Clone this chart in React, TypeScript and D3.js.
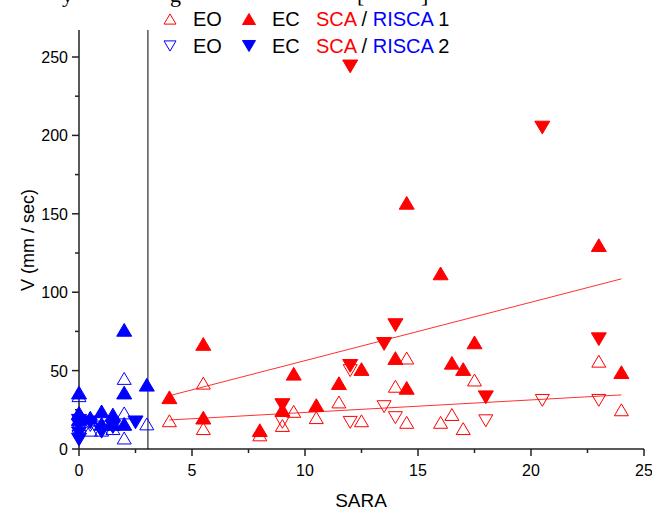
import React from "react";
import * as d3 from "d3";

type P = [number, number];

// SCA (red) and RISCA (blue) series: [SARA, V]
const scaEO1: P[] = [[4,18],[5.5,42],[5.5,13],[8,9],[9,15],[9.5,24],[10.5,20],[11.5,30],[12.5,18],[14,40],[14.5,58],[14.5,17],[16,17],[16.5,22],[17,13],[17.5,44],[23,56],[24,25]];
const scaEC1: P[] = [[4,33],[5.5,67],[5.5,20],[8,12],[9,25],[9.5,48],[10.5,28],[11.5,42],[12.5,51],[14,58],[14.5,157],[14.5,39],[16,112],[16.5,55],[17,51],[17.5,68],[23,130],[24,49]];
const scaEO2: P[] = [[9,17],[12,50],[12,17],[13.5,27],[14,20],[18,18],[20.5,31],[23,31]];
const scaEC2: P[] = [[9,28],[12,244],[12,53],[13.5,67],[14,79],[18,33],[20.5,205],[23,70]];
const riscaEO1: P[] = [[0,34],[0.5,12],[1,12],[1.5,13],[1.5,17],[2,45],[2,23],[2,7],[3,16]];
const riscaEC1: P[] = [[0,36],[0,23],[0,19],[0.5,20],[1,24],[1,16],[1.5,22],[1.5,16],[2,76],[2,36],[2,16],[3,41]];
const riscaEO2: P[] = [[0,12],[0,16],[0.5,15],[1,14],[1.5,15],[0,8]];
const riscaEC2: P[] = [[0,15],[0,10],[0,6],[0.5,17],[1,11],[1.5,14],[2.5,17],[0,18]];

// regression lines for SCA: [x0, y0, x1, y1]
const fitLines: [number, number, number, number][] = [[4, 34, 24, 108.5], [4, 18.5, 24, 34.5]];
const divider = 3.05;

const xTicks = [0, 5, 10, 15, 20, 25];
const xMinor = [2.5, 7.5, 12.5, 17.5, 22.5];
const yTicks = [0, 50, 100, 150, 200, 250];
const yMinor = [25, 75, 125, 175, 225];

const RED = "#ff0000";
const BLUE = "#0000ff";
const FONT = "Liberation Sans, Arial, sans-serif";

const x = d3.scaleLinear().domain([0, 25]).range([79, 644]);
const y = d3.scaleLinear().domain([0, 250]).range([449, 57]);

function tri(cx: number, cy: number, up: boolean, s = 7) {
  const h = s * 0.85;
  if (up) return `M${cx},${cy - h}L${cx + s},${cy + h}L${cx - s},${cy + h}Z`;
  return `M${cx},${cy + h}L${cx + s},${cy - h}L${cx - s},${cy - h}Z`;
}

function Series({ data, up, filled, color }: { data: P[]; up: boolean; filled: boolean; color: string }) {
  return (
    <g>
      {data.map((d, i) => (
        <path
          key={i}
          d={tri(x(d[0]), y(d[1]), up, filled ? 7.5 : 7)}
          fill={filled ? color : "#fff"}
          fillOpacity={filled ? 1 : 0}
          stroke={color}
          strokeWidth={1}
        />
      ))}
    </g>
  );
}

export default function App() {
  const yTop = 30;
  return (
    <svg width={652} height={511} style={{ position: "absolute", left: 0, top: 0, background: "#fff" }} fontFamily={FONT}>
      {/* clipped title descenders (cut off at the top edge, as in the reference) */}
      <g fontFamily="Liberation Serif, serif" fontSize={22} fill="#000">
        <text x={62} y={2}>y</text>
        <text x={170} y={2}>g</text>
        <text x={357} y={2}>[</text>
        <text x={421} y={2}>]</text>
      </g>

      {/* axes */}
      <g stroke="#222" strokeWidth={1.5}>
        <line x1={x(0)} x2={x(0)} y1={yTop} y2={y(0)} />
        <line x1={x(0)} x2={x(25)} y1={y(0)} y2={y(0)} />
        {xTicks.map((t) => (
          <line key={t} x1={x(t)} x2={x(t)} y1={y(0)} y2={y(0) + 7} />
        ))}
        {xMinor.map((t) => (
          <line key={t} x1={x(t)} x2={x(t)} y1={y(0)} y2={y(0) + 4} />
        ))}
        {yTicks.map((t) => (
          <line key={t} x1={x(0) - 7} x2={x(0)} y1={y(t)} y2={y(t)} />
        ))}
        {yMinor.map((t) => (
          <line key={t} x1={x(0) - 4} x2={x(0)} y1={y(t)} y2={y(t)} />
        ))}
      </g>
      <line x1={x(divider)} x2={x(divider)} y1={yTop} y2={y(0)} stroke="#000" strokeWidth={1} />

      <g fontSize={16} fill="#000">
        {xTicks.map((t) => (
          <text key={t} x={x(t)} y={476} textAnchor="middle">{t}</text>
        ))}
        {yTicks.map((t) => (
          <text key={t} x={x(0) - 11} y={y(t) + 6} textAnchor="end">{t}</text>
        ))}
      </g>
      <text x={361} y={507} fontSize={19} textAnchor="middle">SARA</text>
      <text transform={`translate(34,240) rotate(-90)`} fontSize={18} textAnchor="middle">V (mm / sec)</text>

      {/* fit lines */}
      {fitLines.map((l, i) => (
        <line key={i} x1={x(l[0])} y1={y(l[1])} x2={x(l[2])} y2={y(l[3])} stroke="#ff3030" strokeWidth={1} />
      ))}

      <Series data={scaEO1} up filled={false} color={RED} />
      <Series data={scaEO2} up={false} filled={false} color={RED} />
      <Series data={scaEC1} up filled color={RED} />
      <Series data={scaEC2} up={false} filled color={RED} />
      <Series data={riscaEO1} up filled={false} color={BLUE} />
      <Series data={riscaEO2} up={false} filled={false} color={BLUE} />
      <Series data={riscaEC1} up filled color={BLUE} />
      <Series data={riscaEC2} up={false} filled color={BLUE} />

      {/* legend */}
      <g fontSize={20}>
        <path d={tri(170, 19, true, 6)} fill="none" stroke={RED} />
        <text x={193} y={26}>EO</text>
        <path d={tri(249, 19, true, 6.5)} fill={RED} stroke={RED} />
        <text x={272} y={26}>EC</text>
        <text x={316} y={26}>
          <tspan fill={RED}>SCA</tspan>
          <tspan fill="#000"> / </tspan>
          <tspan fill={BLUE}>RISCA</tspan>
          <tspan fill="#000"> 1</tspan>
        </text>
        <path d={tri(170, 46, false, 6)} fill="none" stroke={BLUE} />
        <text x={193} y={53}>EO</text>
        <path d={tri(249, 46, false, 6.5)} fill={BLUE} stroke={BLUE} />
        <text x={272} y={53}>EC</text>
        <text x={316} y={53}>
          <tspan fill={RED}>SCA</tspan>
          <tspan fill="#000"> / </tspan>
          <tspan fill={BLUE}>RISCA</tspan>
          <tspan fill="#000"> 2</tspan>
        </text>
      </g>
    </svg>
  );
}
